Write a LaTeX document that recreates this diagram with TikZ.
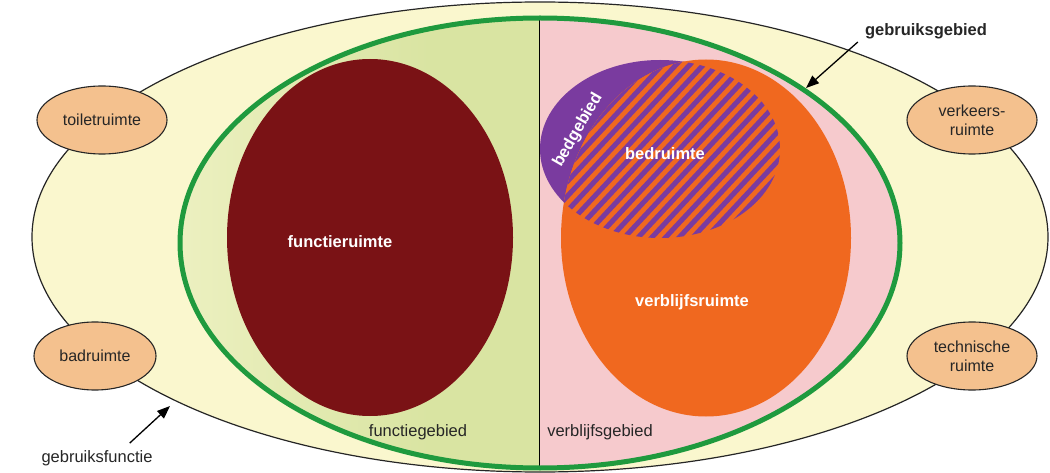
\documentclass[tikz,border=0pt]{standalone}
\usepackage{fontspec}
\setmainfont{Liberation Sans}
\usetikzlibrary{shapes.geometric,arrows.meta}
\definecolor{outerfill}{HTML}{FAF7CE}
\definecolor{peach}{HTML}{F4C18E}
\definecolor{gline}{HTML}{1F9A3E}
\definecolor{leftA}{HTML}{ECF0C0}
\definecolor{leftB}{HTML}{D9E4A2}
\definecolor{pinkfill}{HTML}{F6CACD}
\definecolor{darkred}{HTML}{7A1215}
\definecolor{orangefill}{HTML}{F0681F}
\definecolor{purplefill}{HTML}{7A3B9F}
\definecolor{txt}{HTML}{262626}
\tikzset{
  lbl/.style={font=\fontsize{16.5}{20}\selectfont, text=txt, inner sep=1pt},
  wlbl/.style={font=\fontsize{16.5}{20}\selectfont\bfseries, text=white, inner sep=1pt},
  boldlbl/.style={font=\fontsize{16.5}{20}\selectfont\bfseries, text=txt, inner sep=1pt},
  room/.style={ellipse, draw=black!85, line width=1.1pt, fill=peach, minimum width=130pt, minimum height=68pt, inner sep=0pt, align=center, font=\fontsize{16}{20}\selectfont, text=txt},
  blob/.style={ellipse, inner sep=0pt},
  arr/.style={line width=1.3pt, draw=black, -{Triangle[length=13pt,width=10pt]}}
}
\begin{document}
\begin{tikzpicture}[x=1pt,y=-1pt]
\useasboundingbox (0,0) rectangle (1050,473);
\fill[white] (0,0) rectangle (1050,473);
% outer ellipse: gebruiksfunctie
\node[blob, draw=black!85, line width=1.2pt, fill=outerfill, minimum width=1016pt, minimum height=470pt] (gfun) at (540,237) {};
% interior of gebruiksgebied
\begin{scope}
  \clip (540,243) ellipse [x radius=360pt, y radius=225pt];
  \shade[left color=leftA, right color=leftB] (180,15) rectangle (430,475);
  \fill[leftB] (429,15) rectangle (540,475);
  \fill[pinkfill] (540,15) rectangle (905,475);
  \draw[black, line width=1pt] (539,15) -- (539,475);
\end{scope}
% functieruimte
\node[blob, fill=darkred, minimum width=286pt, minimum height=357pt] (fr) at (370,237.5) {};
% bedgebied
\node[blob, fill=purplefill, minimum width=240pt, minimum height=178pt] (bg) at (660,149) {};
% verblijfsruimte
\node[blob, fill=orangefill, minimum width=290pt, minimum height=357pt] (vr) at (706,238) {};
% bedruimte = bedgebied within verblijfsruimte (hatched)
\begin{scope}
  \clip (660,149) ellipse [x radius=120pt, y radius=89pt];
  \clip (706,238) ellipse [x radius=145pt, y radius=178.5pt];
  \fill[orangefill] (530,50) rectangle (790,245);
  \foreach \i in {-17,...,17}
    \draw[purplefill, line width=5pt] ({665+\i*7.31-123},{150+\i*6.82+132}) -- ++(246,-264);
\end{scope}
% gebruiksgebied outline
\node[blob, draw=gline, line width=5pt, minimum width=720pt, minimum height=450pt] (ggeb) at (540,243) {};
% rooms
\node[room] (toilet) at (102,120) {toiletruimte};
\node[room, minimum width=122pt] (bad) at (95,356) {badruimte};
\node[room] (verkeer) at (972,120) {verkeers-\\[-1pt]ruimte};
\node[room] (techn) at (972,356) {technische\\[-1pt]ruimte};
% labels
\node[wlbl] (frl) at (340,242) {functieruimte};
\node[wlbl] (vrl) at (692,302) {verblijfsruimte};
\node[wlbl] (brl) at (665,154) {bedruimte};
\node[wlbl, rotate=60] (bgl) at (578,130) {bedgebied};
\node[lbl] (fgl) at (418,432) {functiegebied};
\node[lbl] (vgl) at (600,432) {verblijfsgebied};
\node[lbl] (gfl) at (97,458) {gebruiksfunctie};
\node[boldlbl] (ggl) at (926,31) {gebruiksgebied};
% arrows
\coordinate (gftip) at (170,406);
\coordinate (ggtip) at (806,88);
\draw[arr] ([shift={(-24,-6)}]gfl.north east) -- (gftip);
\draw[arr] ([shift={(-6,11)}]ggl.west) -- (ggtip);
\end{tikzpicture}
\end{document}
